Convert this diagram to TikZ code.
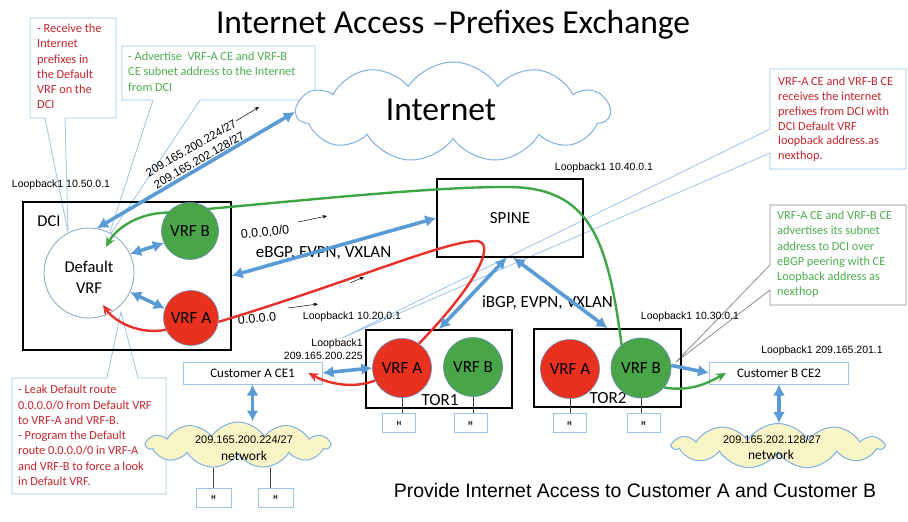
\documentclass[tikz,border=0pt]{standalone}
\usepackage{fontspec}
\setmainfont{Carlito}
\newfontfamily\arialf{Liberation Sans}
\usetikzlibrary{shapes.symbols,arrows.meta,calc}
\pgfdeclarelayer{front}
\pgfsetlayers{main,front}
\definecolor{vred}{HTML}{E8321F}
\definecolor{vgreen}{HTML}{49A548}
\definecolor{lred}{HTML}{E8302A}
\definecolor{lgreen}{HTML}{3FA646}
\definecolor{bblue}{HTML}{5B9BD5}
\definecolor{lblue}{HTML}{9DC3E6}
\definecolor{cedge}{HTML}{7FB0E0}
\definecolor{vedge}{HTML}{6A8CB8}
\definecolor{redtxt}{HTML}{C0272D}
\definecolor{grntxt}{HTML}{4CAE4F}
\definecolor{cyel}{HTML}{F7F4C6}
\definecolor{grayedge}{HTML}{8C8C8C}
\begin{document}
\begin{tikzpicture}[x=1pt,y=-1pt,
 ctext/.style={align=left,inner sep=0pt,anchor=north west,font=\fontsize{12.3}{15.2}\selectfont},
 lbline/.style={draw=lblue,line width=0.8pt},
 lbl/.style={inner sep=0pt,font=\arialf\fontsize{10.5}{12.6}\selectfont},
 vrfc/.style={circle,draw=vedge,line width=0.6pt,inner sep=0pt,font=\fontsize{17}{17}\selectfont},
 blkbox/.style={draw=black,line width=1.6pt,inner sep=0pt},
 barrow/.style={draw=bblue,line width=3.6pt,{Latex[length=11pt,width=12pt]}-{Latex[length=11pt,width=12pt]}},
 barrowone/.style={draw=bblue,line width=3.6pt,-{Latex[length=11pt,width=12pt]}},
 rline/.style={draw=lred,line width=2.4pt},
 gline/.style={draw=lgreen,line width=2.4pt},
 ctip/.style={-{Stealth[length=10pt,width=9pt]}},
 tharrow/.style={draw=black,line width=0.5pt,-{Stealth[length=4.5pt,width=3.5pt]}},
 hbox/.style={draw=lblue,line width=1pt,minimum width=33pt,minimum height=19pt,inner sep=0pt,font=\arialf\bfseries\fontsize{6}{6}\selectfont},
 cebox/.style={draw=lblue,line width=1pt,minimum width=139pt,minimum height=22pt,inner sep=0pt,font=\fontsize{13}{13}\selectfont},
 cloudsh/.style={cloud,cloud puffs=11,cloud puff arc=115,draw=cedge,line width=1pt,inner sep=0pt},
 hline/.style={draw=black!75,line width=0.6pt}
]
\useasboundingbox (0,0) rectangle (908,522);
\fill[white] (0,0) rectangle (908,522);

% title
\node[font=\fontsize{33.5}{33.5}\selectfont,inner sep=0pt,anchor=base] (title) at (453,33) {Internet Access –Prefixes Exchange};

% callouts
\coordinate (tip1) at (68,232);
\draw[lbline] (30,18) -- (116,18) -- (116,118) -- (65,118) -- (tip1) -- (45,118) -- (30,118) -- cycle;
\node[ctext,text=redtxt] (c1) at (37,24) {- Receive the\\Internet\\prefixes in\\the Default\\VRF on the\\DCI};

\coordinate (tip2) at (108,238);
\draw[lbline] (122,46) -- (315,46) -- (315,100) -- (200,100) -- (tip2) -- (153,100) -- (122,100) -- cycle;
\node[ctext,text=grntxt] (c2) at (128,52) {- Advertise\ \ VRF-A CE and VRF-B\\CE subnet address to the Internet\\from DCI};

\coordinate (tip3) at (342,338);
\draw[lbline] (770,69) -- (906,69) -- (906,169) -- (770,169) -- (770,153) -- (tip3) -- (770,129) -- cycle;
\node[ctext,text=redtxt,font=\fontsize{12.3}{14.8}\selectfont] (c3) at (778,77) {VRF-A CE and VRF-B CE\\receives the internet\\prefixes from DCI with\\DCI Default VRF\\loopback address.as\\nexthop.};

\coordinate (tip4) at (676,362);
\draw[draw=grayedge,line width=0.8pt] (770,205) -- (906,205) -- (906,305) -- (770,305) -- (770,290) -- (tip4) -- (770,265) -- cycle;
\node[ctext,text=grntxt] (c4) at (777,211) {VRF-A CE and VRF-B CE\\advertises its subnet\\address to DCI over\\eBGP peering with CE\\Loopback address as\\nexthop};

\coordinate (tip5) at (121,312);
\draw[lbline] (12,378) -- (107,378) -- (tip5) -- (138,378) -- (166,378) -- (166,494) -- (12,494) -- cycle;
\node[ctext,text=redtxt,font=\fontsize{12.3}{15.3}\selectfont] (c5) at (18,385) {- Leak Default route\\0.0.0.0/0 from Default VRF\\to VRF-A and VRF-B.\\- Program the Default\\route 0.0.0.0/0 in VRF-A\\and VRF-B to force a look\\in Default VRF.};

% clouds
\node[cloudsh,fill=white,minimum width=313pt,minimum height=100pt,aspect=3.1] (inet) at (453,112) {};
\node[font=\fontsize{33.5}{33.5}\selectfont,inner sep=0pt,anchor=base] (inettxt) at (441,120) {Internet};
\node[cloudsh,fill=cyel,minimum width=183pt,minimum height=46pt,aspect=4] (cla) at (238,445) {};
\node[cloudsh,fill=cyel,minimum width=210pt,minimum height=45pt,aspect=4.6] (clb) at (778,446) {};
\node[lbl,font=\arialf\fontsize{11}{11}\selectfont] (clat1) at (244,440) {209.165.200.224/27};
\node[inner sep=0pt,font=\fontsize{13.5}{13.5}\selectfont] (clat2) at (244,456) {network};
\node[lbl,font=\arialf\fontsize{11}{11}\selectfont] (clbt1) at (772,440) {209.165.202.128/27};
\node[inner sep=0pt,font=\fontsize{13.5}{13.5}\selectfont] (clbt2) at (771,455) {network};

% boxes
\node[blkbox,minimum width=208pt,minimum height=148pt,anchor=north west] (dci) at (22,201) {};
\node[inner sep=0pt,anchor=base,font=\fontsize{16.5}{16.5}\selectfont] (dcilbl) at (49,226) {DCI};
\node[circle,draw=vedge!80,line width=0.8pt,fill=white,minimum size=90pt,inner sep=0pt] (dvrf) at (89,273) {};
\node[inner sep=0pt,anchor=base,font=\fontsize{16.5}{16.5}\selectfont] (dvrft1) at (89,272) {Default};
\node[inner sep=0pt,anchor=base,font=\fontsize{16.5}{16.5}\selectfont] (dvrft2) at (89,293) {VRF};
\node[blkbox,minimum width=146pt,minimum height=78pt,font=\fontsize{17}{17}\selectfont] (spine) at (510,218) {SPINE};
\node[blkbox,minimum width=146pt,minimum height=78pt] (tor1) at (439,369) {};
\node[blkbox,minimum width=147pt,minimum height=78pt] (tor2) at (607.5,368) {};
\node[inner sep=0pt,anchor=base,font=\fontsize{17}{17}\selectfont] (tor1lbl) at (440,405) {TOR1};
\node[inner sep=0pt,anchor=base,font=\fontsize{17}{17}\selectfont] (tor2lbl) at (608,403) {TOR2};

% customer boxes
\node[cebox] (ce1) at (252.5,373) {Customer A CE1};
\node[cebox] (ce2) at (779,373) {Customer B CE2};

% H boxes
\node[hbox] (h1) at (399,423) {H};
\node[hbox] (h2) at (470.5,423) {H};
\node[hbox] (h3) at (569.5,423) {H};
\node[hbox] (h4) at (643.5,423) {H};
\node[hbox,minimum width=35pt] (ha1) at (213.5,497.5) {H};
\node[hbox,minimum width=35pt] (ha2) at (275.5,497.5) {H};
\draw[hline] (ha1.north) -- ++(0,-20);
\draw[hline] ([xshift=-5.5pt]ha2.north) -- ++(0,-20);

% coloured VRF circles (front layer)
\begin{pgfonlayer}{front}
\node[vrfc,fill=vgreen,minimum size=57pt] (dcib) at (190,231) {VRF B};
\node[vrfc,fill=vred,minimum size=55pt] (dcia) at (191,318) {VRF A};
\node[vrfc,fill=vred,minimum size=59pt] (t1a) at (402,368) {VRF A};
\node[vrfc,fill=vgreen,minimum size=59pt] (t1b) at (473,367) {VRF B};
\node[vrfc,fill=vred,minimum size=59pt] (t2a) at (570,369) {VRF A};
\node[vrfc,fill=vgreen,minimum size=60pt] (t2b) at (641,368) {VRF B};
\end{pgfonlayer}

\draw[hline] (t1a.south) -- (t1a.south |- h1.north);
\draw[hline] (t1b.south) -- (t1b.south |- h2.north);
\draw[hline] (t2a.south) -- (t2a.south |- h3.north);
\draw[hline] (t2b.south) -- (t2b.south |- h4.north);

% labels
\node[lbl] (lb50) at (61,185) {Loopback1 10.50.0.1};
\node[lbl] (lb40) at (604,168) {Loopback1 10.40.0.1};
\node[lbl] (lb20) at (352,317) {Loopback1 10.20.0.1};
\node[lbl,align=right,anchor=east] (lb225) at (363,349) {Loopback1\\209.165.200.225};
\node[lbl] (lb30) at (690,317) {Loopback1 10.30.0.1};
\node[lbl] (lb201) at (822,351) {Loopback1 209.165.201.1};
\node[lbl,font=\arialf\fontsize{12.5}{12.5}\selectfont,rotate=6] (dr1) at (265,232) {0.0.0.0/0};
\node[lbl,font=\arialf\fontsize{12.5}{12.5}\selectfont,rotate=6] (dr2) at (257,318) {0.0.0.0};
\node[lbl,font=\arialf\fontsize{11.5}{11.5}\selectfont,rotate=30] (pfx1) at (191,148) {209.165.200.224/27};
\node[lbl,font=\arialf\fontsize{11.5}{11.5}\selectfont,rotate=30] (pfx2) at (199,160) {209.165.202.128/27};
\node[inner sep=0pt,anchor=base,font=\fontsize{17}{17}\selectfont] (ebgp) at (323.5,257) {eBGP, EVPN, VXLAN};
\node[inner sep=0pt,anchor=base,font=\fontsize{17}{17}\selectfont] (ibgp) at (547.5,307) {iBGP, EVPN, VXLAN};
\node[inner sep=0pt,anchor=base,font=\arialf\fontsize{19.5}{19.5}\selectfont] (prov) at (635,497) {Provide Internet Access to Customer A and Customer B};

% thin arrows
\coordinate (ta1s) at (298,222); \coordinate (ta1e) at (327,216);
\coordinate (ta2s) at (288,308); \coordinate (ta2e) at (318,304);
\coordinate (ta3s) at (236,121); \coordinate (ta3e) at (259,107);
\coordinate (ta4s) at (350,283); \coordinate (ta4e) at (364,277);
\draw[tharrow] (ta1s) -- (ta1e);
\draw[tharrow] (ta2s) -- (ta2e);
\draw[tharrow] (ta3s) -- (ta3e);
\draw[tharrow] (ta4s) -- (ta4e);

% red and green routes
\coordinate (rtip) at (103,305);
\coordinate (gtip) at (106,247);
\draw[rline] (dcia.-8) .. controls (350,282) and (440,243) .. (475,241) .. controls (495,240) and (485,275) .. (t1a.55);
\draw[rline,ctip] (t1a.205) .. controls (350,390) and (325,382) .. ([xshift=-14pt]ce1.east);
\draw[rline,ctip] (dcia.205) .. controls (140,335) and (115,322) .. (rtip);
\draw[gline,ctip] (t2b.130) .. controls (608,240) and (590,188) .. (510,187) .. controls (430,186) and (260,205) .. (161,213) .. controls (135,215) and (115,230) .. (gtip);
\draw[gline,ctip] (t2b.-40) .. controls (690,392) and (708,383) .. ([xshift=17pt]ce2.west);

% blue arrows
\begin{pgfonlayer}{front}
\draw[barrow] (dvrf.80) -- (inet.west);
\draw[barrow] (dci.east) -- (spine.west);
\draw[barrow] (spine.265) -- (tor1.north);
\draw[barrow] (spine.275) -- (tor2.north);
\draw[barrow] (dvrf.25) -- (dcib.205);
\draw[barrow] (dvrf.-25) -- (dcia.160);
\draw[barrow] (ce1.east) -- (t1a.west);
\draw[barrow] (ce1.south) -- (ce1.south |- cla.north);
\draw[barrow] (ce2.south) -- (ce2.south |- clb.north);
\draw[barrowone] (t2b.5) -- (ce2.west);
\end{pgfonlayer}
\end{tikzpicture}
\end{document}
